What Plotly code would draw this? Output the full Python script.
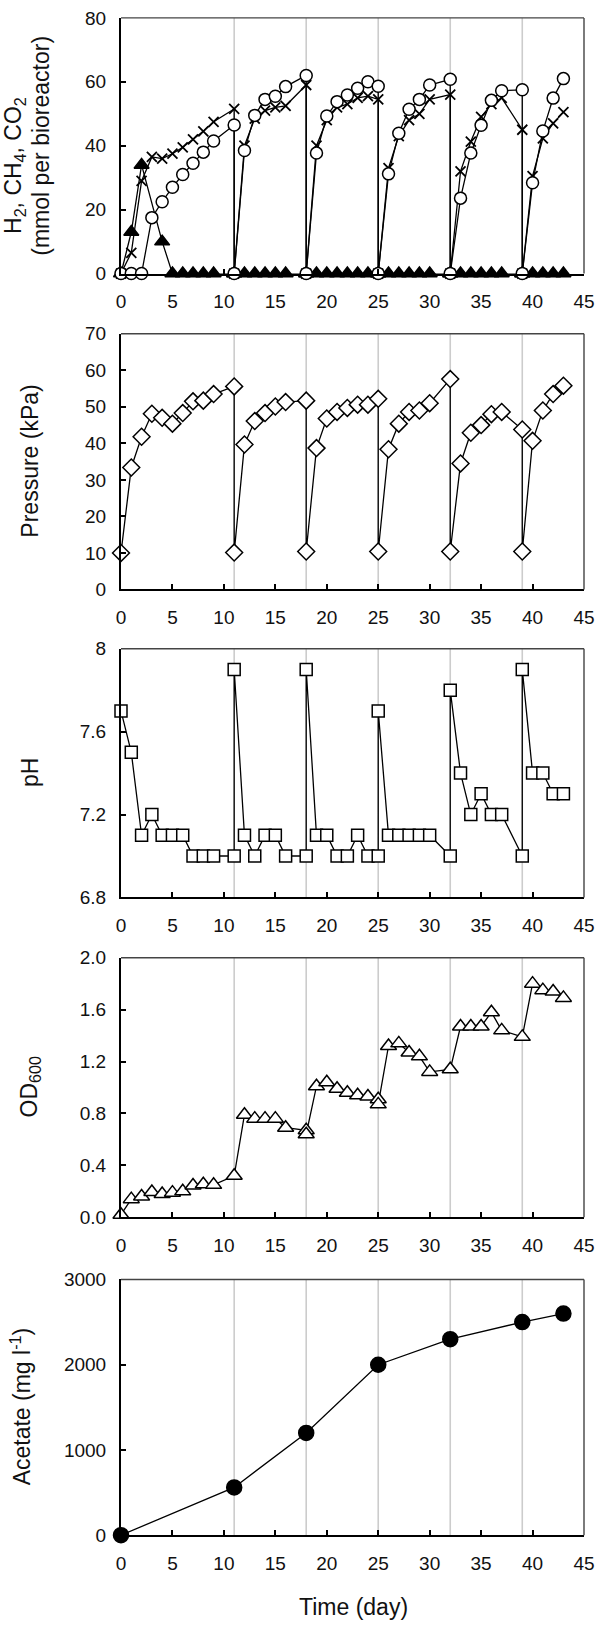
import plotly.graph_objects as go

# ---------------- data ----------------
gas_days = [0, 1, 2, 3, 4, 5, 6, 7, 8, 9, 11, 11, 12, 13, 14, 15, 16, 18, 18,
            19, 20, 21, 22, 23, 24, 25, 25, 26, 27, 28, 29, 30, 32, 32,
            33, 34, 35, 36, 37, 39, 39, 40, 41, 42, 43]
ch4 = [0, 0, 0, 17.5, 22.5, 27, 31, 34.5, 38, 41.5, 46.5, 0, 38.5, 49.5, 54.5, 55.5, 58.5, 62, 0,
       37.7, 49.3, 53.8, 55.9, 58, 60, 58.6, 0, 31.2, 43.9, 51.4, 54.5, 59, 60.8, 0,
       23.6, 37.7, 46.4, 54.2, 57.2, 57.5, 0, 28.4, 44.6, 54.9, 61]
co2 = [0, 6.5, 29, 36.5, 36, 37.5, 39.5, 42, 44.5, 47.5, 51.5, 0, 40, 48.5, 51, 52, 52.5, 59, 0,
       40, 48, 52, 53, 55, 55.5, 54.5, 0, 33, 43, 48, 50, 54.5, 56, 0,
       32, 41.3, 49, 53, 55, 45, 0, 30.5, 42.3, 47, 50.5]
h2 = [0, 13, 34, None, 10, 0, 0, 0, 0, 0, 0, 0, 0, 0, 0, 0, 0, 0, 0,
      0, 0, 0, 0, 0, 0, 0, 0, 0, 0, 0, 0, 0, 0, 0,
      0, 0, 0, 0, 0, 0, 0, 0, 0, 0, 0]

pressure = [10, 33.4, 41.8, 48.1, 47, 45.4, 48.3, 51.5, 51.7, 53.5, 55.6, 10.1, 39.7, 46.1, 48.3, 50.1, 51.3,
            51.7, 10.4, 38.7, 46.8, 48.6, 49.7, 50.6, 50.6, 52.2, 10.4, 38.4, 45.4, 48.6, 49, 51,
            57.6, 10.4, 34.5, 42.9, 45, 48, 48.6, 43.8, 10.4, 40.7, 49, 53.5, 55.8]

ph = [7.7, 7.5, 7.1, 7.2, 7.1, 7.1, 7.1, 7.0, 7.0, 7.0, 7.0, 7.9, 7.1, 7.0, 7.1, 7.1, 7.0,
      7.0, 7.9, 7.1, 7.1, 7.0, 7.0, 7.1, 7.0, 7.0, 7.7, 7.1, 7.1, 7.1, 7.1, 7.1,
      7.0, 7.8, 7.4, 7.2, 7.3, 7.2, 7.2, 7.0, 7.9, 7.4, 7.4, 7.3, 7.3]

od_days = [0, 1, 2, 3, 4, 5, 6, 7, 8, 9, 11, 12, 13, 14, 15, 16, 18, 18,
           19, 20, 21, 22, 23, 24, 25, 25, 26, 27, 28, 29, 30, 32,
           33, 34, 35, 36, 37, 39, 40, 41, 42, 43]
od600 = [0.02, 0.14, 0.16, 0.195, 0.18, 0.19, 0.2, 0.245, 0.255, 0.25, 0.32, 0.79, 0.76, 0.76, 0.76, 0.69,
         0.67, 0.64, 1.01, 1.04, 0.99, 0.96, 0.94, 0.93, 0.91, 0.87, 1.32, 1.34, 1.27, 1.24, 1.12, 1.14,
         1.47, 1.47, 1.47, 1.58, 1.44, 1.39, 1.80, 1.75, 1.74, 1.69]

acetate_days = [0, 11, 18, 25, 32, 39, 43]
acetate = [0, 560, 1200, 2000, 2300, 2500, 2600]

cycle_days = [11, 18, 25, 32, 39]
x_ticks = [0, 5, 10, 15, 20, 25, 30, 35, 40, 45]

# ---------------- layout helpers ----------------
W, H = 600, 1636
PLOT_L, PLOT_R = 121, 584
ML, MR = PLOT_L, W - PLOT_R
panels_px = [(8, 267), (328, 587), (647, 899), (960, 1223), (1286, 1545)]
FONT = "Arial, Liberation Sans, sans-serif"
TICK_SIZE = 19
TITLE_SIZE = 23


def dom(top, bot):
    return [1 - bot / H, 1 - top / H]


def px_x(px):
    return (px - ML) / (W - ML - MR)


def px_y(px):
    return 1 - px / H


def sfx(n):
    return "" if n == 1 else str(n)


fig = go.Figure()

line_style = dict(color="black", width=1.3)


def add(x, y, n, symbol, size, fill, connect=False, lw=1.5):
    fig.add_trace(go.Scatter(
        x=x, y=y, mode="lines+markers", xaxis=f"x{sfx(n)}", yaxis=f"y{sfx(n)}",
        line=line_style, connectgaps=connect, cliponaxis=False,
        marker=dict(symbol=symbol, size=size, color=fill,
                    line=dict(color="black", width=lw)),
        showlegend=False, hoverinfo="skip"))


# panel 1
add(gas_days, h2, 1, "triangle-up", 13, "black", connect=True)
add(gas_days, co2, 1, "x-thin", 10, "black", lw=1.8)
add(gas_days, ch4, 1, "circle", 12, "white")
# panel 2
add(gas_days, pressure, 2, "diamond", 13, "white")
# panel 3
add(gas_days, ph, 3, "square", 12, "white")
# panel 4
add(od_days, od600, 4, "triangle-up", 14, "white")
# panel 5
add(acetate_days, acetate, 5, "circle", 15, "black")

y_specs = [
    dict(range=[0, 80], tickvals=[0, 20, 40, 60, 80], ticktext=["0", "20", "40", "60", "80"]),
    dict(range=[0, 70], tickvals=[0, 10, 20, 30, 40, 50, 60, 70],
         ticktext=["0", "10", "20", "30", "40", "50", "60", "70"]),
    dict(range=[6.8, 8.0], tickvals=[6.8, 7.2, 7.6, 8.0], ticktext=["6.8", "7.2", "7.6", "8"]),
    dict(range=[0, 2.0], tickvals=[0, 0.4, 0.8, 1.2, 1.6, 2.0],
         ticktext=["0.0", "0.4", "0.8", "1.2", "1.6", "2.0"]),
    dict(range=[0, 3000], tickvals=[0, 1000, 2000, 3000], ticktext=["0", "1000", "2000", "3000"]),
]

axis_common = dict(showline=True, linecolor="black", linewidth=2, ticks="inside", ticklen=5,
                   tickwidth=1.5, tickcolor="black", showgrid=False, zeroline=False,
                   ticklabeloverflow="allow",
                   tickfont=dict(family=FONT, size=TICK_SIZE, color="#111"))

layout = dict(width=W, height=H, margin=dict(l=ML, r=MR, t=0, b=0),
              plot_bgcolor="white", paper_bgcolor="white", showlegend=False)
shapes = []
for i, (top, bot) in enumerate(panels_px, start=1):
    s = sfx(i)
    layout[f"xaxis{s}"] = dict(domain=[0, 1], anchor=f"y{s}", range=[0, 45],
                               tickmode="array", tickvals=x_ticks,
                               ticktext=[str(t) for t in x_ticks],
                               ticklabelstandoff=10, **axis_common)
    layout[f"yaxis{s}"] = dict(domain=dom(top, bot), anchor=f"x{s}", tickmode="array",
                               ticklabelstandoff=9, **y_specs[i - 1], **axis_common)
    for d in cycle_days:
        shapes.append(dict(type="line", xref=f"x{s}", yref=f"y{s} domain", x0=d, x1=d, y0=0, y1=1,
                           line=dict(color="#cccccc", width=1.6), layer="below"))
    shapes.append(dict(type="line", xref=f"x{s} domain", yref=f"y{s} domain", x0=0, x1=1, y0=1, y1=1,
                       line=dict(color="#444", width=1.4)))
    shapes.append(dict(type="line", xref=f"x{s} domain", yref=f"y{s} domain", x0=1, x1=1, y0=0, y1=1,
                       line=dict(color="#444", width=1.4)))
layout["shapes"] = shapes


def ycen(i):
    t, b = panels_px[i]
    return px_y((t + b) / 2)


tf = dict(family=FONT, size=TITLE_SIZE, color="#111")
ann = [
    dict(text="H<sub>2</sub>, CH<sub>4</sub>, CO<sub>2</sub>", x=px_x(15), y=px_y(158)),
    dict(text="(mmol per bioreactor)", x=px_x(41), y=ycen(0)),
    dict(text="Pressure (kPa)", x=px_x(30), y=ycen(1)),
    dict(text="pH", x=px_x(30), y=ycen(2)),
    dict(text="OD<sub>600</sub>", x=px_x(30), y=ycen(3)),
    dict(text="Acetate (mg l<sup>-1</sup>)", x=px_x(21), y=ycen(4)),
]
annotations = []
for a in ann:
    annotations.append(dict(a, xref="paper", yref="paper", textangle=-90, showarrow=False,
                            xanchor="center", yanchor="middle", font=tf))
annotations.append(dict(text="Time (day)", x=px_x(353), y=px_y(1618), xref="paper", yref="paper",
                        showarrow=False, xanchor="center", yanchor="middle", font=tf))
layout["annotations"] = annotations

fig.update_layout(**layout)

# remove the browser's default 8 px body margin so the figure fills the window exactly
page_fix = ("document.body.style.margin='0';document.body.style.padding='0';"
            "document.documentElement.style.overflow='hidden';")
fig.write_html("out.html", post_script=page_fix, config={"displayModeBar": False})
